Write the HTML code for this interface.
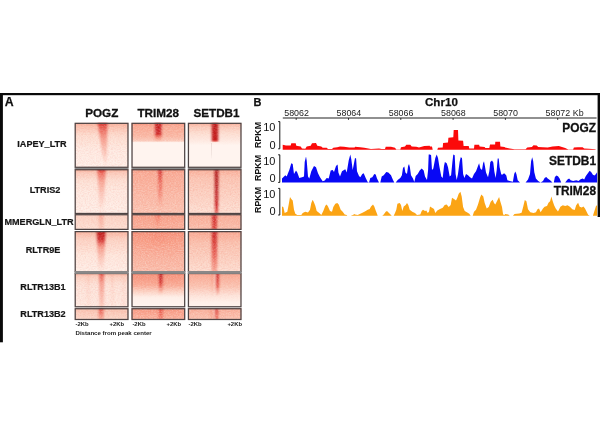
<!DOCTYPE html>
<html><head><meta charset="utf-8"><title>figure</title>
<style>
html,body{margin:0;padding:0;background:#fff;}
body{width:600px;height:447px;position:relative;overflow:hidden;font-family:"Liberation Sans",sans-serif;color:#111;}
.abs{position:absolute;white-space:nowrap;line-height:1;}
.b{font-weight:bold;-webkit-text-stroke:0.25px #111;}
.rl{position:absolute;white-space:nowrap;line-height:1;font-weight:bold;font-size:9.1px;color:#151515;text-align:center;-webkit-text-stroke:0.2px #151515;}
.ch{position:absolute;white-space:nowrap;line-height:1;font-weight:bold;font-size:11.7px;text-align:center;color:#111;-webkit-text-stroke:0.3px #111;}
.tk{position:absolute;top:109.4px;width:40px;text-align:center;font-size:8.9px;line-height:1;color:#222;white-space:nowrap;}
.yn{position:absolute;font-size:11px;line-height:1;color:#111;text-align:right;width:14px;left:261.5px;}
.rp{position:absolute;font-size:8.9px;font-weight:bold;line-height:1;color:#111;transform-origin:0 0;transform:rotate(-90deg);white-space:nowrap;width:26px;text-align:center;left:254px;}
.tl{position:absolute;font-size:11.9px;-webkit-text-stroke:0.3px #111;font-weight:bold;line-height:1;color:#111;text-align:right;right:4px;white-space:nowrap;}
.sm{position:absolute;font-size:5.9px;font-weight:bold;line-height:1;color:#222;white-space:nowrap;}
svg{position:absolute;left:0;top:0;}
#w{position:absolute;left:0;top:0;width:600px;height:447px;filter:blur(0.3px);}
</style></head><body><div id="w">
<svg width="600" height="447" viewBox="0 0 600 447">
<defs><filter id="bl0"><feGaussianBlur stdDeviation="0.3"/></filter><filter id="bl1" x="-100%" y="-10%" width="300%" height="120%"><feGaussianBlur stdDeviation="0.9 0.6"/></filter><filter id="bl2" x="-100%" y="-10%" width="300%" height="120%"><feGaussianBlur stdDeviation="4 1.5"/></filter><filter id="noise" x="0" y="0" width="100%" height="100%"><feTurbulence type="fractalNoise" baseFrequency="0.6 0.95" numOctaves="2" seed="3" result="t"/><feColorMatrix in="t" type="matrix" values="0 0 0 0 0.90  0 0 0 0 0.25  0 0 0 0 0.2  1.6 0 0 0 -0.62"/></filter><filter id="noisew" x="0" y="0" width="100%" height="100%"><feTurbulence type="fractalNoise" baseFrequency="0.6 0.95" numOctaves="2" seed="11" result="t"/><feColorMatrix in="t" type="matrix" values="0 0 0 0 1  0 0 0 0 0.96  0 0 0 0 0.93  0 1.6 0 0 -0.62"/></filter><linearGradient id="g00" x1="0" y1="0" x2="0" y2="1"><stop offset="0.000" stop-color="#f9ad97"/><stop offset="0.100" stop-color="#fbc5b3"/><stop offset="0.300" stop-color="#fddfd2"/><stop offset="0.600" stop-color="#feebe3"/><stop offset="1.000" stop-color="#fff1ea"/></linearGradient><clipPath id="c00"><rect x="74.6" y="122.7" width="54.0" height="45.2"/></clipPath><linearGradient id="s00_0" gradientUnits="userSpaceOnUse" x1="0" y1="122.7" x2="0" y2="167.9"><stop offset="0.000" stop-color="#c61d1f" stop-opacity="0.99"/><stop offset="0.080" stop-color="#dd352d" stop-opacity="0.77"/><stop offset="0.350" stop-color="#ee5946" stop-opacity="0.50"/><stop offset="0.700" stop-color="#f57860" stop-opacity="0.28"/><stop offset="0.900" stop-color="#f79078" stop-opacity="0.09"/><stop offset="1.000" stop-color="#f89b83" stop-opacity="0.00"/></linearGradient><linearGradient id="g01" x1="0" y1="0" x2="0" y2="1"><stop offset="0.000" stop-color="#f8947c"/><stop offset="0.080" stop-color="#f9aa94"/><stop offset="0.300" stop-color="#fab9a5"/><stop offset="0.400" stop-color="#fbcdbd"/><stop offset="0.440" stop-color="#fff4ef"/><stop offset="1.000" stop-color="#fff4ef"/></linearGradient><clipPath id="c01"><rect x="131.4" y="122.7" width="53.9" height="45.2"/></clipPath><linearGradient id="s01_0" gradientUnits="userSpaceOnUse" x1="0" y1="122.7" x2="0" y2="167.9"><stop offset="0.000" stop-color="#c01b1d" stop-opacity="1.00"/><stop offset="0.250" stop-color="#cc2222" stop-opacity="0.94"/><stop offset="0.330" stop-color="#ee5946" stop-opacity="0.50"/><stop offset="0.410" stop-color="#f78d75" stop-opacity="0.11"/><stop offset="0.430" stop-color="#f89b83" stop-opacity="0.00"/><stop offset="1.000" stop-color="#f89b83" stop-opacity="0.00"/></linearGradient><linearGradient id="mg01" x1="0" y1="0" x2="0" y2="1"><stop offset="0.40" stop-color="#fff"/><stop offset="0.44" stop-color="#000"/></linearGradient><mask id="m01" maskUnits="userSpaceOnUse" x="131.4" y="122.7" width="53.9" height="45.2"><rect x="131.4" y="122.7" width="53.9" height="45.2" fill="url(#mg01)"/></mask><linearGradient id="g02" x1="0" y1="0" x2="0" y2="1"><stop offset="0.000" stop-color="#f9ad97"/><stop offset="0.100" stop-color="#fbcdbd"/><stop offset="0.250" stop-color="#fde1d5"/><stop offset="0.400" stop-color="#feebe3"/><stop offset="0.500" stop-color="#fff4ef"/><stop offset="1.000" stop-color="#fff4ef"/></linearGradient><clipPath id="c02"><rect x="187.8" y="122.7" width="53.8" height="45.2"/></clipPath><linearGradient id="s02_0" gradientUnits="userSpaceOnUse" x1="0" y1="122.7" x2="0" y2="167.9"><stop offset="0.000" stop-color="#bc1a1c" stop-opacity="1.00"/><stop offset="0.380" stop-color="#c41c1e" stop-opacity="1.00"/><stop offset="0.410" stop-color="#dd352d" stop-opacity="0.77"/><stop offset="0.440" stop-color="#f89b83" stop-opacity="0.00"/><stop offset="1.000" stop-color="#f89b83" stop-opacity="0.00"/></linearGradient><linearGradient id="s02_1" gradientUnits="userSpaceOnUse" x1="0" y1="122.7" x2="0" y2="167.9"><stop offset="0.000" stop-color="#7a5550" stop-opacity="0.00"/><stop offset="0.440" stop-color="#7a5550" stop-opacity="0.00"/><stop offset="0.460" stop-color="#7a5550" stop-opacity="0.18"/><stop offset="0.700" stop-color="#7a5550" stop-opacity="0.11"/><stop offset="0.800" stop-color="#7a5550" stop-opacity="0.00"/><stop offset="1.000" stop-color="#7a5550" stop-opacity="0.00"/></linearGradient><linearGradient id="mg02" x1="0" y1="0" x2="0" y2="1"><stop offset="0.15" stop-color="#fff"/><stop offset="0.50" stop-color="#000"/></linearGradient><mask id="m02" maskUnits="userSpaceOnUse" x="187.8" y="122.7" width="53.8" height="45.2"><rect x="187.8" y="122.7" width="53.8" height="45.2" fill="url(#mg02)"/></mask><linearGradient id="g10" x1="0" y1="0" x2="0" y2="1"><stop offset="0.000" stop-color="#f9ad97"/><stop offset="0.080" stop-color="#fbcaba"/><stop offset="0.250" stop-color="#fde1d5"/><stop offset="0.500" stop-color="#feeae1"/><stop offset="1.000" stop-color="#feefe8"/></linearGradient><clipPath id="c10"><rect x="74.6" y="169.1" width="54.0" height="45.0"/></clipPath><linearGradient id="s10_0" gradientUnits="userSpaceOnUse" x1="0" y1="169.1" x2="0" y2="214.1"><stop offset="0.000" stop-color="#cc2222" stop-opacity="0.94"/><stop offset="0.100" stop-color="#e84134" stop-opacity="0.66"/><stop offset="0.300" stop-color="#f1614c" stop-opacity="0.44"/><stop offset="0.700" stop-color="#f68169" stop-opacity="0.20"/><stop offset="1.000" stop-color="#f89b83" stop-opacity="0.00"/></linearGradient><linearGradient id="g11" x1="0" y1="0" x2="0" y2="1"><stop offset="0.000" stop-color="#f89b83"/><stop offset="0.100" stop-color="#f9aa94"/><stop offset="1.000" stop-color="#fbc5b3"/></linearGradient><clipPath id="c11"><rect x="131.4" y="169.1" width="53.9" height="45.0"/></clipPath><linearGradient id="s11_0" gradientUnits="userSpaceOnUse" x1="0" y1="169.1" x2="0" y2="214.1"><stop offset="0.000" stop-color="#c61d1f" stop-opacity="0.99"/><stop offset="0.200" stop-color="#dd352d" stop-opacity="0.77"/><stop offset="0.600" stop-color="#ee5946" stop-opacity="0.50"/><stop offset="0.850" stop-color="#f78a72" stop-opacity="0.13"/><stop offset="1.000" stop-color="#f89b83" stop-opacity="0.00"/></linearGradient><linearGradient id="g12" x1="0" y1="0" x2="0" y2="1"><stop offset="0.000" stop-color="#f9ad97"/><stop offset="0.200" stop-color="#fbc5b3"/><stop offset="1.000" stop-color="#fde1d5"/></linearGradient><clipPath id="c12"><rect x="187.8" y="169.1" width="53.8" height="45.0"/></clipPath><linearGradient id="s12_0" gradientUnits="userSpaceOnUse" x1="0" y1="169.1" x2="0" y2="214.1"><stop offset="0.000" stop-color="#ae1418" stop-opacity="1.00"/><stop offset="0.400" stop-color="#b4171a" stop-opacity="1.00"/><stop offset="0.800" stop-color="#c61d1f" stop-opacity="0.99"/><stop offset="1.000" stop-color="#dd352d" stop-opacity="0.77"/></linearGradient><linearGradient id="g20" x1="0" y1="0" x2="0" y2="1"><stop offset="0.000" stop-color="#fcd3c4"/><stop offset="1.000" stop-color="#fde1d5"/></linearGradient><clipPath id="c20"><rect x="74.6" y="214.1" width="54.0" height="15.9"/></clipPath><linearGradient id="s20_0" gradientUnits="userSpaceOnUse" x1="0" y1="214.1" x2="0" y2="230.0"><stop offset="0.000" stop-color="#f36952" stop-opacity="0.39"/><stop offset="1.000" stop-color="#f68169" stop-opacity="0.20"/></linearGradient><linearGradient id="g21" x1="0" y1="0" x2="0" y2="1"><stop offset="0.000" stop-color="#f89e86"/><stop offset="1.000" stop-color="#f9b09b"/></linearGradient><clipPath id="c21"><rect x="131.4" y="214.1" width="53.9" height="15.9"/></clipPath><linearGradient id="s21_0" gradientUnits="userSpaceOnUse" x1="0" y1="214.1" x2="0" y2="230.0"><stop offset="0.000" stop-color="#ec5140" stop-opacity="0.55"/><stop offset="0.600" stop-color="#f57860" stop-opacity="0.28"/><stop offset="1.000" stop-color="#f79078" stop-opacity="0.09"/></linearGradient><linearGradient id="g22" x1="0" y1="0" x2="0" y2="1"><stop offset="0.000" stop-color="#f9ad97"/><stop offset="1.000" stop-color="#fabfac"/></linearGradient><clipPath id="c22"><rect x="187.8" y="214.1" width="53.8" height="15.9"/></clipPath><linearGradient id="s22_0" gradientUnits="userSpaceOnUse" x1="0" y1="214.1" x2="0" y2="230.0"><stop offset="0.000" stop-color="#cc2222" stop-opacity="0.94"/><stop offset="1.000" stop-color="#d72f29" stop-opacity="0.83"/></linearGradient><linearGradient id="g30" x1="0" y1="0" x2="0" y2="1"><stop offset="0.000" stop-color="#fab39e"/><stop offset="0.200" stop-color="#fcd3c4"/><stop offset="0.600" stop-color="#fee8de"/><stop offset="1.000" stop-color="#feefe8"/></linearGradient><clipPath id="c30"><rect x="74.6" y="231.0" width="54.0" height="41.3"/></clipPath><linearGradient id="s30_0" gradientUnits="userSpaceOnUse" x1="0" y1="231.0" x2="0" y2="272.3"><stop offset="0.000" stop-color="#ba191b" stop-opacity="1.00"/><stop offset="0.200" stop-color="#cc2222" stop-opacity="0.94"/><stop offset="0.400" stop-color="#ee5946" stop-opacity="0.50"/><stop offset="0.800" stop-color="#f6846c" stop-opacity="0.18"/><stop offset="1.000" stop-color="#f89880" stop-opacity="0.02"/></linearGradient><linearGradient id="g31" x1="0" y1="0" x2="0" y2="1"><stop offset="0.000" stop-color="#f78e76"/><stop offset="0.250" stop-color="#f89e86"/><stop offset="0.600" stop-color="#f9b09b"/><stop offset="1.000" stop-color="#fabfac"/></linearGradient><clipPath id="c31"><rect x="131.4" y="231.0" width="53.9" height="41.3"/></clipPath><linearGradient id="s31_0" gradientUnits="userSpaceOnUse" x1="0" y1="231.0" x2="0" y2="272.3"><stop offset="0.000" stop-color="#f47159" stop-opacity="0.33"/><stop offset="0.500" stop-color="#f78d75" stop-opacity="0.11"/><stop offset="0.700" stop-color="#f89b83" stop-opacity="0.00"/><stop offset="1.000" stop-color="#f89b83" stop-opacity="0.00"/></linearGradient><linearGradient id="g32" x1="0" y1="0" x2="0" y2="1"><stop offset="0.000" stop-color="#f9a790"/><stop offset="0.300" stop-color="#fac2af"/><stop offset="1.000" stop-color="#fddfd2"/></linearGradient><clipPath id="c32"><rect x="187.8" y="231.0" width="53.8" height="41.3"/></clipPath><linearGradient id="s32_0" gradientUnits="userSpaceOnUse" x1="0" y1="231.0" x2="0" y2="272.3"><stop offset="0.000" stop-color="#c61d1f" stop-opacity="0.99"/><stop offset="0.500" stop-color="#dd352d" stop-opacity="0.77"/><stop offset="1.000" stop-color="#f1614c" stop-opacity="0.44"/></linearGradient><linearGradient id="g40" x1="0" y1="0" x2="0" y2="1"><stop offset="0.000" stop-color="#fab39e"/><stop offset="0.120" stop-color="#fcd3c4"/><stop offset="0.350" stop-color="#fde4da"/><stop offset="1.000" stop-color="#feebe3"/></linearGradient><clipPath id="c40"><rect x="74.6" y="272.9" width="54.0" height="34.5"/></clipPath><linearGradient id="s40_0" gradientUnits="userSpaceOnUse" x1="0" y1="272.9" x2="0" y2="307.4"><stop offset="0.000" stop-color="#dd352d" stop-opacity="0.77"/><stop offset="0.300" stop-color="#ee5946" stop-opacity="0.50"/><stop offset="1.000" stop-color="#f57c64" stop-opacity="0.24"/></linearGradient><linearGradient id="s40_1" gradientUnits="userSpaceOnUse" x1="0" y1="272.9" x2="0" y2="307.4"><stop offset="0.000" stop-color="#f7876f" stop-opacity="0.15"/><stop offset="1.000" stop-color="#f79078" stop-opacity="0.09"/></linearGradient><linearGradient id="s40_2" gradientUnits="userSpaceOnUse" x1="0" y1="272.9" x2="0" y2="307.4"><stop offset="0.000" stop-color="#f7876f" stop-opacity="0.15"/><stop offset="1.000" stop-color="#f79078" stop-opacity="0.09"/></linearGradient><linearGradient id="s40_3" gradientUnits="userSpaceOnUse" x1="0" y1="272.9" x2="0" y2="307.4"><stop offset="0.000" stop-color="#f78d75" stop-opacity="0.11"/><stop offset="1.000" stop-color="#f8927a" stop-opacity="0.07"/></linearGradient><linearGradient id="g41" x1="0" y1="0" x2="0" y2="1"><stop offset="0.000" stop-color="#f78e76"/><stop offset="0.350" stop-color="#f9aa94"/><stop offset="0.550" stop-color="#fcd6c8"/><stop offset="0.700" stop-color="#feefe8"/><stop offset="1.000" stop-color="#fff4ef"/></linearGradient><clipPath id="c41"><rect x="131.4" y="272.9" width="53.9" height="34.5"/></clipPath><linearGradient id="s41_0" gradientUnits="userSpaceOnUse" x1="0" y1="272.9" x2="0" y2="307.4"><stop offset="0.000" stop-color="#ba191b" stop-opacity="1.00"/><stop offset="0.300" stop-color="#d22925" stop-opacity="0.88"/><stop offset="0.550" stop-color="#f57860" stop-opacity="0.28"/><stop offset="0.650" stop-color="#f89b83" stop-opacity="0.00"/><stop offset="1.000" stop-color="#f89b83" stop-opacity="0.00"/></linearGradient><linearGradient id="mg41" x1="0" y1="0" x2="0" y2="1"><stop offset="0.45" stop-color="#fff"/><stop offset="0.75" stop-color="#000"/></linearGradient><mask id="m41" maskUnits="userSpaceOnUse" x="131.4" y="272.9" width="53.9" height="34.5"><rect x="131.4" y="272.9" width="53.9" height="34.5" fill="url(#mg41)"/></mask><linearGradient id="g42" x1="0" y1="0" x2="0" y2="1"><stop offset="0.000" stop-color="#f9a790"/><stop offset="0.400" stop-color="#fbc5b3"/><stop offset="0.650" stop-color="#fde4da"/><stop offset="0.850" stop-color="#fff1ea"/><stop offset="1.000" stop-color="#fff2ec"/></linearGradient><clipPath id="c42"><rect x="187.8" y="272.9" width="53.8" height="34.5"/></clipPath><linearGradient id="s42_0" gradientUnits="userSpaceOnUse" x1="0" y1="272.9" x2="0" y2="307.4"><stop offset="0.000" stop-color="#c61d1f" stop-opacity="0.99"/><stop offset="0.400" stop-color="#dd352d" stop-opacity="0.77"/><stop offset="0.650" stop-color="#f78a72" stop-opacity="0.13"/><stop offset="0.700" stop-color="#f89b83" stop-opacity="0.00"/><stop offset="1.000" stop-color="#f89b83" stop-opacity="0.00"/></linearGradient><linearGradient id="s42_1" gradientUnits="userSpaceOnUse" x1="0" y1="272.9" x2="0" y2="307.4"><stop offset="0.000" stop-color="#f36952" stop-opacity="0.39"/><stop offset="0.600" stop-color="#f78a72" stop-opacity="0.13"/><stop offset="0.700" stop-color="#f89b83" stop-opacity="0.00"/><stop offset="1.000" stop-color="#f89b83" stop-opacity="0.00"/></linearGradient><linearGradient id="s42_2" gradientUnits="userSpaceOnUse" x1="0" y1="272.9" x2="0" y2="307.4"><stop offset="0.000" stop-color="#ffffff" stop-opacity="0.39"/><stop offset="0.600" stop-color="#ffffff" stop-opacity="0.22"/><stop offset="0.700" stop-color="#ffffff" stop-opacity="0.00"/><stop offset="1.000" stop-color="#ffffff" stop-opacity="0.00"/></linearGradient><linearGradient id="mg42" x1="0" y1="0" x2="0" y2="1"><stop offset="0.50" stop-color="#fff"/><stop offset="0.90" stop-color="#000"/></linearGradient><mask id="m42" maskUnits="userSpaceOnUse" x="187.8" y="272.9" width="53.8" height="34.5"><rect x="187.8" y="272.9" width="53.8" height="34.5" fill="url(#mg42)"/></mask><linearGradient id="g50" x1="0" y1="0" x2="0" y2="1"><stop offset="0.000" stop-color="#fac2af"/><stop offset="1.000" stop-color="#fcd9cb"/></linearGradient><clipPath id="c50"><rect x="74.6" y="308.1" width="54.0" height="12.0"/></clipPath><linearGradient id="s50_0" gradientUnits="userSpaceOnUse" x1="0" y1="308.1" x2="0" y2="320.1"><stop offset="0.000" stop-color="#dd352d" stop-opacity="0.77"/><stop offset="1.000" stop-color="#f36952" stop-opacity="0.39"/></linearGradient><linearGradient id="g51" x1="0" y1="0" x2="0" y2="1"><stop offset="0.000" stop-color="#f89880"/><stop offset="1.000" stop-color="#fab39e"/></linearGradient><clipPath id="c51"><rect x="131.4" y="308.1" width="53.9" height="12.0"/></clipPath><linearGradient id="s51_0" gradientUnits="userSpaceOnUse" x1="0" y1="308.1" x2="0" y2="320.1"><stop offset="0.000" stop-color="#dd352d" stop-opacity="0.77"/><stop offset="1.000" stop-color="#ee5946" stop-opacity="0.50"/></linearGradient><linearGradient id="g52" x1="0" y1="0" x2="0" y2="1"><stop offset="0.000" stop-color="#f9ad97"/><stop offset="1.000" stop-color="#fbc5b3"/></linearGradient><clipPath id="c52"><rect x="187.8" y="308.1" width="53.8" height="12.0"/></clipPath><linearGradient id="s52_0" gradientUnits="userSpaceOnUse" x1="0" y1="308.1" x2="0" y2="320.1"><stop offset="0.000" stop-color="#d22925" stop-opacity="0.88"/><stop offset="1.000" stop-color="#ea493a" stop-opacity="0.61"/></linearGradient><linearGradient id="s52_1" gradientUnits="userSpaceOnUse" x1="0" y1="308.1" x2="0" y2="320.1"><stop offset="0.000" stop-color="#f1614c" stop-opacity="0.44"/><stop offset="1.000" stop-color="#f5735b" stop-opacity="0.31"/></linearGradient><linearGradient id="s52_2" gradientUnits="userSpaceOnUse" x1="0" y1="308.1" x2="0" y2="320.1"><stop offset="0.000" stop-color="#ffffff" stop-opacity="0.33"/><stop offset="1.000" stop-color="#ffffff" stop-opacity="0.22"/></linearGradient></defs>
<rect x="0" y="93" width="600" height="2.2" fill="#0a0a0a"/>
<rect x="0" y="93" width="2.9" height="249.3" fill="#0a0a0a"/>
<rect x="597.6" y="93" width="2.4" height="124" fill="#0a0a0a"/>
<rect x="74.6" y="167.6" width="54.0" height="1.8" fill="#8a8a8a"/><rect x="131.4" y="167.6" width="53.9" height="1.8" fill="#8a8a8a"/><rect x="187.8" y="167.6" width="53.8" height="1.8" fill="#8a8a8a"/><g clip-path="url(#c00)"><rect x="74.6" y="122.7" width="54.0" height="45.2" fill="url(#g00)"/><polygon points="97.4,120.7 107.4,120.7 106.9,169.9 104.4,169.9" fill="url(#s00_0)" filter="url(#bl1)"/><g><rect x="74.6" y="122.7" width="54.0" height="45.2" filter="url(#noise)" opacity="0.25"/><rect x="74.6" y="122.7" width="54.0" height="45.2" filter="url(#noisew)" opacity="0.25"/></g></g><rect x="75.22" y="123.33" width="52.75" height="43.95" fill="none" stroke="#4e4444" stroke-width="1.25"/><g clip-path="url(#c01)"><rect x="131.4" y="122.7" width="53.9" height="45.2" fill="url(#g01)"/><polygon points="155.0,120.7 161.5,120.7 161.5,169.9 155.0,169.9" fill="url(#s01_0)" filter="url(#bl1)"/><g mask="url(#m01)"><rect x="131.4" y="122.7" width="53.9" height="45.2" filter="url(#noise)" opacity="0.29"/><rect x="131.4" y="122.7" width="53.9" height="45.2" filter="url(#noisew)" opacity="0.29"/></g></g><rect x="132.03" y="123.33" width="52.65" height="43.95" fill="none" stroke="#4e4444" stroke-width="1.25"/><g clip-path="url(#c02)"><rect x="187.8" y="122.7" width="53.8" height="45.2" fill="url(#g02)"/><polygon points="211.7,120.7 218.3,120.7 218.0,169.9 212.0,169.9" fill="url(#s02_0)" filter="url(#bl1)"/><polygon points="211.0,120.7 211.8,120.7 211.8,169.9 211.0,169.9" fill="url(#s02_1)" filter="url(#bl0)"/><g mask="url(#m02)"><rect x="187.8" y="122.7" width="53.8" height="45.2" filter="url(#noise)" opacity="0.22"/><rect x="187.8" y="122.7" width="53.8" height="45.2" filter="url(#noisew)" opacity="0.22"/></g></g><rect x="188.43" y="123.33" width="52.55" height="43.95" fill="none" stroke="#4e4444" stroke-width="1.25"/><g clip-path="url(#c10)"><rect x="74.6" y="169.1" width="54.0" height="45.0" fill="url(#g10)"/><polygon points="97.3,167.1 105.8,167.1 103.6,216.1 99.6,216.1" fill="url(#s10_0)" filter="url(#bl1)"/><g><rect x="74.6" y="169.1" width="54.0" height="45.0" filter="url(#noise)" opacity="0.25"/><rect x="74.6" y="169.1" width="54.0" height="45.0" filter="url(#noisew)" opacity="0.25"/></g></g><rect x="75.22" y="169.72" width="52.75" height="43.75" fill="none" stroke="#4e4444" stroke-width="1.25"/><g clip-path="url(#c11)"><rect x="131.4" y="169.1" width="53.9" height="45.0" fill="url(#g11)"/><polygon points="158.3,167.1 162.1,167.1 161.7,216.1 158.7,216.1" fill="url(#s11_0)" filter="url(#bl1)"/><g><rect x="131.4" y="169.1" width="53.9" height="45.0" filter="url(#noise)" opacity="0.39"/><rect x="131.4" y="169.1" width="53.9" height="45.0" filter="url(#noisew)" opacity="0.39"/></g></g><rect x="132.03" y="169.72" width="52.65" height="43.75" fill="none" stroke="#4e4444" stroke-width="1.25"/><g clip-path="url(#c12)"><rect x="187.8" y="169.1" width="53.8" height="45.0" fill="url(#g12)"/><polygon points="214.5,167.1 218.5,167.1 218.0,216.1 215.0,216.1" fill="url(#s12_0)" filter="url(#bl1)"/><g><rect x="187.8" y="169.1" width="53.8" height="45.0" filter="url(#noise)" opacity="0.31"/><rect x="187.8" y="169.1" width="53.8" height="45.0" filter="url(#noisew)" opacity="0.31"/></g></g><rect x="188.43" y="169.72" width="52.55" height="43.75" fill="none" stroke="#4e4444" stroke-width="1.25"/><g clip-path="url(#c20)"><rect x="74.6" y="214.1" width="54.0" height="15.9" fill="url(#g20)"/><polygon points="98.6,212.1 103.6,212.1 103.6,232.0 98.6,232.0" fill="url(#s20_0)" filter="url(#bl1)"/><g><rect x="74.6" y="214.1" width="54.0" height="15.9" filter="url(#noise)" opacity="0.25"/><rect x="74.6" y="214.1" width="54.0" height="15.9" filter="url(#noisew)" opacity="0.25"/></g></g><rect x="75.22" y="214.72" width="52.75" height="14.65" fill="none" stroke="#4e4444" stroke-width="1.25"/><g clip-path="url(#c21)"><rect x="131.4" y="214.1" width="53.9" height="15.9" fill="url(#g21)"/><polygon points="155.3,212.1 160.3,212.1 160.3,232.0 155.3,232.0" fill="url(#s21_0)" filter="url(#bl1)"/><g><rect x="131.4" y="214.1" width="53.9" height="15.9" filter="url(#noise)" opacity="0.41"/><rect x="131.4" y="214.1" width="53.9" height="15.9" filter="url(#noisew)" opacity="0.41"/></g></g><rect x="132.03" y="214.72" width="52.65" height="14.65" fill="none" stroke="#4e4444" stroke-width="1.25"/><g clip-path="url(#c22)"><rect x="187.8" y="214.1" width="53.8" height="15.9" fill="url(#g22)"/><polygon points="211.9,212.1 216.9,212.1 216.9,232.0 211.9,232.0" fill="url(#s22_0)" filter="url(#bl1)"/><g><rect x="187.8" y="214.1" width="53.8" height="15.9" filter="url(#noise)" opacity="0.36"/><rect x="187.8" y="214.1" width="53.8" height="15.9" filter="url(#noisew)" opacity="0.36"/></g></g><rect x="188.43" y="214.72" width="52.55" height="14.65" fill="none" stroke="#4e4444" stroke-width="1.25"/><g clip-path="url(#c30)"><rect x="74.6" y="231.0" width="54.0" height="41.3" fill="url(#g30)"/><polygon points="96.6,229.0 105.6,229.0 103.6,274.3 98.6,274.3" fill="url(#s30_0)" filter="url(#bl1)"/><g><rect x="74.6" y="231.0" width="54.0" height="41.3" filter="url(#noise)" opacity="0.25"/><rect x="74.6" y="231.0" width="54.0" height="41.3" filter="url(#noisew)" opacity="0.25"/></g></g><rect x="75.22" y="231.62" width="52.75" height="40.05" fill="none" stroke="#4e4444" stroke-width="1.25"/><g clip-path="url(#c31)"><rect x="131.4" y="231.0" width="53.9" height="41.3" fill="url(#g31)"/><polygon points="152.4,229.0 164.4,229.0 164.4,274.3 152.4,274.3" fill="url(#s31_0)" filter="url(#bl2)"/><g><rect x="131.4" y="231.0" width="53.9" height="41.3" filter="url(#noise)" opacity="0.41"/><rect x="131.4" y="231.0" width="53.9" height="41.3" filter="url(#noisew)" opacity="0.41"/></g></g><rect x="132.03" y="231.62" width="52.65" height="40.05" fill="none" stroke="#4e4444" stroke-width="1.25"/><g clip-path="url(#c32)"><rect x="187.8" y="231.0" width="53.8" height="41.3" fill="url(#g32)"/><polygon points="211.7,229.0 217.2,229.0 217.2,274.3 211.7,274.3" fill="url(#s32_0)" filter="url(#bl1)"/><g><rect x="187.8" y="231.0" width="53.8" height="41.3" filter="url(#noise)" opacity="0.32"/><rect x="187.8" y="231.0" width="53.8" height="41.3" filter="url(#noisew)" opacity="0.32"/></g></g><rect x="188.43" y="231.62" width="52.55" height="40.05" fill="none" stroke="#4e4444" stroke-width="1.25"/><g clip-path="url(#c40)"><rect x="74.6" y="272.9" width="54.0" height="34.5" fill="url(#g40)"/><polygon points="99.1,270.9 104.1,270.9 104.1,309.4 99.1,309.4" fill="url(#s40_0)" filter="url(#bl1)"/><polygon points="86.6,270.9 89.6,270.9 89.6,309.4 86.6,309.4" fill="url(#s40_1)" filter="url(#bl1)"/><polygon points="110.9,270.9 113.9,270.9 113.9,309.4 110.9,309.4" fill="url(#s40_2)" filter="url(#bl1)"/><polygon points="122.2,270.9 125.2,270.9 125.2,309.4 122.2,309.4" fill="url(#s40_3)" filter="url(#bl1)"/><g><rect x="74.6" y="272.9" width="54.0" height="34.5" filter="url(#noise)" opacity="0.26"/><rect x="74.6" y="272.9" width="54.0" height="34.5" filter="url(#noisew)" opacity="0.26"/></g></g><rect x="75.22" y="273.52" width="52.75" height="33.25" fill="none" stroke="#4e4444" stroke-width="1.25"/><g clip-path="url(#c41)"><rect x="131.4" y="272.9" width="53.9" height="34.5" fill="url(#g41)"/><polygon points="159.0,270.9 162.5,270.9 162.5,309.4 159.0,309.4" fill="url(#s41_0)" filter="url(#bl1)"/><g mask="url(#m41)"><rect x="131.4" y="272.9" width="53.9" height="34.5" filter="url(#noise)" opacity="0.29"/><rect x="131.4" y="272.9" width="53.9" height="34.5" filter="url(#noisew)" opacity="0.29"/></g></g><rect x="132.03" y="273.52" width="52.65" height="33.25" fill="none" stroke="#4e4444" stroke-width="1.25"/><g clip-path="url(#c42)"><rect x="187.8" y="272.9" width="53.8" height="34.5" fill="url(#g42)"/><polygon points="215.8,270.9 219.0,270.9 219.0,309.4 215.8,309.4" fill="url(#s42_0)" filter="url(#bl1)"/><polygon points="211.3,270.9 213.8,270.9 213.8,309.4 211.3,309.4" fill="url(#s42_1)" filter="url(#bl1)"/><polygon points="214.0,270.9 216.0,270.9 216.0,309.4 214.0,309.4" fill="url(#s42_2)" filter="url(#bl1)"/><g mask="url(#m42)"><rect x="187.8" y="272.9" width="53.8" height="34.5" filter="url(#noise)" opacity="0.24"/><rect x="187.8" y="272.9" width="53.8" height="34.5" filter="url(#noisew)" opacity="0.24"/></g></g><rect x="188.43" y="273.52" width="52.55" height="33.25" fill="none" stroke="#4e4444" stroke-width="1.25"/><g clip-path="url(#c50)"><rect x="74.6" y="308.1" width="54.0" height="12.0" fill="url(#g50)"/><polygon points="98.6,306.1 103.6,306.1 103.6,322.1 98.6,322.1" fill="url(#s50_0)" filter="url(#bl1)"/><g><rect x="74.6" y="308.1" width="54.0" height="12.0" filter="url(#noise)" opacity="0.29"/><rect x="74.6" y="308.1" width="54.0" height="12.0" filter="url(#noisew)" opacity="0.29"/></g></g><rect x="75.22" y="308.73" width="52.75" height="10.75" fill="none" stroke="#4e4444" stroke-width="1.25"/><g clip-path="url(#c51)"><rect x="131.4" y="308.1" width="53.9" height="12.0" fill="url(#g51)"/><polygon points="158.8,306.1 162.8,306.1 162.8,322.1 158.8,322.1" fill="url(#s51_0)" filter="url(#bl1)"/><g><rect x="131.4" y="308.1" width="53.9" height="12.0" filter="url(#noise)" opacity="0.41"/><rect x="131.4" y="308.1" width="53.9" height="12.0" filter="url(#noisew)" opacity="0.41"/></g></g><rect x="132.03" y="308.73" width="52.65" height="10.75" fill="none" stroke="#4e4444" stroke-width="1.25"/><g clip-path="url(#c52)"><rect x="187.8" y="308.1" width="53.8" height="12.0" fill="url(#g52)"/><polygon points="214.8,306.1 218.3,306.1 218.3,322.1 214.8,322.1" fill="url(#s52_0)" filter="url(#bl1)"/><polygon points="210.5,306.1 213.0,306.1 213.0,322.1 210.5,322.1" fill="url(#s52_1)" filter="url(#bl1)"/><polygon points="213.2,306.1 215.2,306.1 215.2,322.1 213.2,322.1" fill="url(#s52_2)" filter="url(#bl1)"/><g><rect x="187.8" y="308.1" width="53.8" height="12.0" filter="url(#noise)" opacity="0.35"/><rect x="187.8" y="308.1" width="53.8" height="12.0" filter="url(#noisew)" opacity="0.35"/></g></g><rect x="188.43" y="308.73" width="52.55" height="10.75" fill="none" stroke="#4e4444" stroke-width="1.25"/><rect x="74.6" y="271.0" width="54.0" height="2.9" fill="#8a8888"/><rect x="131.4" y="271.0" width="53.9" height="2.9" fill="#8a8888"/><rect x="187.8" y="271.0" width="53.8" height="2.9" fill="#8a8888"/>
<line x1="282.8" y1="118" x2="596.6" y2="118" stroke="#222" stroke-width="1.1"/>
<line x1="296.2" y1="118" x2="296.2" y2="119.9" stroke="#222" stroke-width="0.9"/><line x1="348.5" y1="118" x2="348.5" y2="119.9" stroke="#222" stroke-width="0.9"/><line x1="400.8" y1="118" x2="400.8" y2="119.9" stroke="#222" stroke-width="0.9"/><line x1="453.1" y1="118" x2="453.1" y2="119.9" stroke="#222" stroke-width="0.9"/><line x1="505.4" y1="118" x2="505.4" y2="119.9" stroke="#222" stroke-width="0.9"/><line x1="557.7" y1="118" x2="557.7" y2="119.9" stroke="#222" stroke-width="0.9"/><path d="M278.2,121.6 H279.8 V148.8 H278.2" fill="none" stroke="#111" stroke-width="1"/><path d="M278.2,154.8 H279.8 V182.4 H278.2" fill="none" stroke="#111" stroke-width="1"/><path d="M278.2,188.4 H279.8 V215.0 H278.2" fill="none" stroke="#111" stroke-width="1"/><path d="M282.7,149.7 L282.7,149.7 L282.7,144.8 L286.0,145.4 L290.7,145.4 L291.3,143.2 L295.7,143.2 L296.3,145.8 L300.7,146.4 L302.0,148.5 L305.3,148.8 L306.7,146.4 L310.7,145.8 L312.0,143.2 L316.0,142.9 L317.3,145.8 L321.3,146.4 L322.7,147.7 L326.7,147.7 L328.0,149.0 L332.0,149.0 L333.3,147.7 L337.3,147.2 L340.0,146.4 L344.0,146.8 L349.3,147.4 L354.7,147.4 L355.0,146.8 L360.3,147.2 L364.3,147.7 L368.3,148.5 L371.0,149.0 L375.0,148.8 L379.0,148.5 L381.7,149.0 L385.0,149.0 L385.7,146.8 L391.0,146.8 L395.0,147.7 L396.3,149.4 L400.3,149.4 L401.0,147.2 L405.0,146.4 L406.3,144.8 L410.3,144.8 L411.7,146.4 L416.3,146.8 L419.0,147.4 L421.7,146.8 L424.3,146.1 L429.7,145.8 L430.0,146.4 L432.0,146.4 L432.7,149.7 L437.3,149.7 L438.0,147.7 L442.7,147.4 L443.1,143.0 L448.0,142.6 L448.4,137.7 L453.3,137.3 L453.7,130.1 L458.0,130.1 L458.4,140.4 L463.1,140.8 L463.6,146.1 L468.7,146.1 L469.3,148.4 L474.0,148.4 L474.4,144.8 L479.1,144.8 L479.6,146.6 L484.7,147.0 L485.3,148.0 L489.3,148.0 L490.0,144.4 L495.1,144.4 L495.3,141.7 L500.0,141.7 L500.4,146.6 L504.7,147.0 L505.0,147.6 L509.7,148.4 L514.5,149.2 L525.6,149.2 L527.2,147.6 L531.9,146.9 L533.5,145.3 L536.7,145.6 L538.2,146.9 L543.0,147.2 L547.7,147.6 L552.5,146.5 L558.8,146.1 L562.0,146.9 L565.2,148.1 L568.3,149.4 L573.1,149.4 L573.9,147.6 L577.8,147.2 L582.6,147.2 L584.2,148.4 L588.9,148.8 L595.2,149.2 L596.0,149.7 L596.0,149.7 Z" fill="#fb0a0a"/><path d="M282.0,182.6 L282.0,182.6 L282.0,178.6 L285.3,175.3 L286.7,176.6 L289.3,169.9 L291.3,163.3 L292.7,163.9 L294.0,173.9 L296.0,170.6 L297.3,172.6 L299.3,177.9 L302.0,177.3 L304.0,176.6 L304.7,161.9 L306.0,156.6 L306.7,160.6 L308.0,176.6 L309.3,178.6 L311.3,171.3 L314.0,165.9 L316.0,167.3 L318.0,173.3 L320.0,177.3 L322.7,181.3 L324.7,180.6 L326.7,177.9 L328.7,178.6 L330.7,170.6 L332.7,169.9 L334.0,171.9 L336.0,165.9 L337.6,164.6 L338.4,172.6 L340.0,176.6 L342.0,171.3 L344.0,169.9 L345.3,169.3 L346.7,172.6 L348.7,160.6 L350.3,154.6 L351.3,159.3 L352.7,169.9 L354.0,163.3 L355.0,157.9 L356.1,158.6 L357.0,171.3 L359.0,175.9 L360.3,177.3 L362.3,173.9 L363.7,173.3 L365.7,177.9 L367.7,181.9 L369.0,182.6 L370.3,177.9 L372.3,177.3 L374.3,173.9 L375.7,174.6 L377.0,178.6 L379.0,182.6 L380.3,182.6 L381.7,176.6 L383.7,175.3 L386.3,171.9 L388.3,172.6 L391.0,175.3 L393.0,179.9 L394.3,182.6 L395.7,182.6 L397.7,179.9 L400.3,177.9 L401.9,175.3 L403.0,167.9 L404.3,166.6 L405.4,172.6 L407.0,173.9 L408.1,165.9 L409.0,163.9 L409.9,167.3 L411.0,175.3 L413.0,178.6 L414.3,181.9 L415.7,175.9 L417.7,173.9 L419.7,170.6 L421.7,168.6 L423.7,170.6 L425.0,176.6 L427.0,179.9 L428.1,169.9 L428.7,154.6 L430.0,154.6 L431.1,155.3 L432.0,169.9 L433.3,168.6 L435.3,157.9 L436.7,154.6 L438.0,157.9 L439.3,165.9 L441.3,176.6 L442.7,177.9 L444.0,165.9 L444.9,161.9 L446.7,163.3 L448.0,167.3 L449.7,176.6 L451.1,175.3 L452.4,161.9 L453.3,154.6 L454.7,155.3 L455.6,173.9 L456.7,179.9 L458.0,173.9 L459.6,161.9 L460.7,157.3 L462.0,157.9 L463.1,173.9 L464.4,177.9 L466.0,173.9 L468.0,175.3 L470.0,177.3 L472.0,178.6 L474.0,173.9 L476.0,171.3 L478.0,165.9 L479.1,163.3 L480.4,168.6 L482.0,169.9 L483.1,163.3 L484.0,161.3 L484.9,165.9 L486.0,172.6 L488.0,177.3 L489.3,171.3 L490.3,161.9 L492.0,160.6 L493.3,162.6 L494.3,171.3 L495.6,177.9 L496.7,169.9 L497.7,158.6 L498.7,158.6 L499.6,167.3 L501.3,174.6 L502.7,174.6 L504.0,173.3 L505.0,173.9 L506.3,175.5 L507.4,180.2 L509.7,181.0 L512.9,181.8 L514.2,173.9 L515.3,171.5 L516.4,173.9 L517.7,180.2 L520.0,182.6 L520.8,182.6 L525.6,182.6 L528.0,179.4 L530.0,173.9 L531.1,161.2 L532.2,157.3 L533.2,161.2 L534.3,172.3 L535.9,178.6 L538.2,181.0 L540.6,182.6 L543.0,181.0 L544.6,177.9 L546.2,177.1 L547.7,178.6 L550.1,180.2 L552.5,182.6 L553.8,182.6 L554.9,177.1 L556.5,175.5 L558.0,176.3 L559.6,178.6 L561.2,182.6 L565.2,182.6 L567.5,179.4 L569.1,178.6 L570.7,180.2 L573.1,181.0 L576.2,180.2 L578.6,181.0 L580.2,179.4 L582.6,178.6 L584.2,179.4 L585.7,176.3 L587.3,173.9 L589.7,170.7 L591.3,172.3 L592.9,174.7 L594.5,175.5 L596.0,173.9 L597.1,172.3 L597.1,182.6 L597.1,182.6 Z" fill="#0808f5"/><path d="M282.0,215.8 L282.0,215.8 L282.0,206.5 L283.3,207.1 L284.7,213.1 L287.3,211.8 L288.7,204.5 L290.0,197.1 L291.3,199.1 L292.7,200.5 L294.0,209.8 L295.3,213.8 L297.3,215.1 L301.3,215.1 L302.7,213.1 L305.3,211.8 L308.0,212.5 L310.0,209.8 L311.3,203.1 L312.7,199.8 L314.0,202.5 L315.3,205.8 L316.7,211.1 L319.3,213.1 L321.3,215.1 L323.3,211.1 L325.3,205.8 L326.7,204.5 L328.0,206.5 L330.0,211.1 L332.0,211.8 L333.3,207.1 L335.3,203.8 L337.3,203.1 L338.7,204.5 L340.7,209.8 L342.7,211.8 L344.7,214.5 L346.7,215.1 L347.3,215.8 L350.7,215.8 L352.7,214.9 L354.7,214.1 L355.0,214.5 L357.7,215.1 L360.3,213.8 L363.0,212.5 L365.7,211.1 L367.7,209.8 L369.7,209.1 L371.0,206.5 L373.0,204.5 L374.3,206.5 L375.7,210.5 L377.0,213.8 L377.7,215.8 L382.3,215.8 L383.7,214.5 L385.7,211.8 L387.0,211.1 L389.0,213.1 L391.0,215.1 L391.7,215.8 L393.7,215.8 L395.0,213.1 L396.3,209.8 L397.4,203.8 L399.7,203.1 L401.0,205.1 L402.3,211.1 L403.7,206.5 L405.7,205.1 L407.0,203.1 L408.3,205.1 L409.7,209.8 L412.3,211.8 L415.0,213.1 L417.0,215.1 L420.3,214.5 L421.7,211.1 L423.0,209.8 L425.0,211.1 L426.3,210.5 L427.7,213.1 L429.0,211.8 L430.0,206.5 L432.0,207.8 L434.0,209.1 L435.3,213.1 L437.3,210.5 L440.0,209.1 L442.7,207.8 L444.7,205.1 L446.7,204.5 L448.7,207.1 L450.7,205.1 L452.0,197.8 L454.0,199.1 L456.0,200.5 L457.3,197.8 L458.7,193.8 L460.4,191.8 L461.7,196.5 L463.1,207.1 L464.7,211.1 L467.3,212.5 L469.3,213.8 L470.7,215.8 L472.7,215.8 L474.0,211.8 L476.0,209.8 L478.0,204.5 L480.0,197.8 L481.3,194.5 L483.3,196.5 L484.7,203.1 L486.7,208.5 L488.7,207.1 L490.7,201.8 L492.7,199.8 L494.0,203.1 L495.3,204.5 L497.3,200.5 L499.1,197.1 L500.4,201.8 L502.0,207.1 L503.1,214.5 L504.7,215.1 L505.0,213.9 L508.2,214.4 L509.7,215.8 L512.9,215.8 L514.5,213.9 L519.2,213.4 L521.6,212.8 L523.2,206.8 L524.8,200.1 L526.4,201.2 L528.0,209.2 L530.3,212.3 L533.5,213.1 L535.9,212.3 L537.5,209.2 L539.0,208.4 L540.6,212.3 L543.0,208.4 L544.6,206.8 L547.0,206.0 L548.5,202.8 L550.1,201.2 L551.4,196.5 L552.5,200.4 L554.1,205.2 L555.7,208.4 L558.0,211.5 L560.4,206.8 L562.8,205.2 L565.2,206.0 L567.5,205.2 L569.9,206.8 L572.3,209.2 L574.7,209.9 L576.2,205.2 L578.1,202.8 L579.7,206.8 L581.8,207.6 L583.4,206.5 L585.0,208.4 L586.5,211.5 L588.1,214.7 L589.7,215.8 L592.9,215.8 L594.5,210.7 L596.0,206.0 L597.1,205.2 L597.1,215.8 L597.1,215.8 Z" fill="#fba414"/>
</svg>
<div class="abs b" style="left:4.8px;top:96.4px;font-size:12.3px;">A</div>
<div class="abs b" style="left:253.5px;top:96.9px;font-size:11px;">B</div>
<div class="ch" style="left:75.5px;width:52.5px;top:107.2px;">POGZ</div>
<div class="ch" style="left:132px;width:52.5px;top:107.2px;">TRIM28</div>
<div class="ch" style="left:188.5px;width:56px;top:107.2px;">SETDB1</div>
<div class="rl" style="left:12px;width:60px;top:139.8px;">IAPEY_LTR</div>
<div class="rl" style="left:15px;width:60px;top:186.0px;">LTRIS2</div>
<div class="rl" style="left:4px;width:70px;top:218.0px;">MMERGLN_LTR</div>
<div class="rl" style="left:13px;width:60px;top:246.3px;">RLTR9E</div>
<div class="rl" style="left:13px;width:60px;top:282.8px;">RLTR13B1</div>
<div class="rl" style="left:13px;width:60px;top:309.6px;">RLTR13B2</div>
<div class="sm" style="left:75.6px;top:322px;">-2Kb</div><div class="sm" style="left:104.2px;width:20px;text-align:right;top:322px;">+2Kb</div><div class="sm" style="left:132.4px;top:322px;">-2Kb</div><div class="sm" style="left:161.2px;width:20px;text-align:right;top:322px;">+2Kb</div><div class="sm" style="left:188.6px;top:322px;">-2Kb</div><div class="sm" style="left:222.0px;width:20px;text-align:right;top:322px;">+2Kb</div>
<div class="sm" style="left:75.5px;top:330px;font-size:6.1px;">Distance from peak center</div>
<div class="abs b" style="left:425px;top:96px;font-size:11.6px;">Chr10</div>
<div class="tk" style="left:276.6px">58062</div><div class="tk" style="left:328.9px">58064</div><div class="tk" style="left:381.1px">58066</div><div class="tk" style="left:433.4px">58068</div><div class="tk" style="left:485.6px">58070</div><div class="tk" style="left:537.9px">58072</div>
<div class="abs" style="left:572.8px;top:109.4px;font-size:8.9px;color:#222;">Kb</div>
<div class="yn" style="top:122px;">10</div><div class="yn" style="top:140px;">0</div>
<div class="yn" style="top:155.8px;">10</div><div class="yn" style="top:173.4px;">0</div>
<div class="yn" style="top:188.6px;">10</div><div class="yn" style="top:206px;">0</div>
<div class="rp" style="top:148px;">RPKM</div>
<div class="rp" style="top:181px;">RPKM</div>
<div class="rp" style="top:213px;">RPKM</div>
<div class="tl" style="top:123.3px;">POGZ</div>
<div class="tl" style="top:156.3px;">SETDB1</div>
<div class="tl" style="top:186px;">TRIM28</div>
</div></body></html>
